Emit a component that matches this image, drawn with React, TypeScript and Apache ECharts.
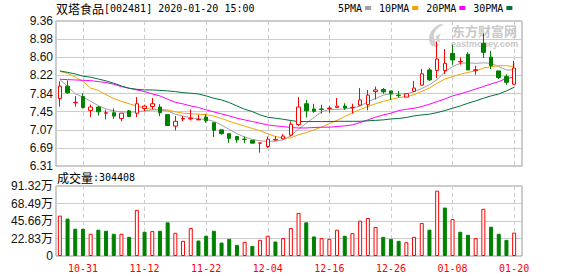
import React, { useEffect, useRef } from "react";
import * as echarts from "echarts";

const dates = [
  "10-28","10-29","10-30","10-31","11-01","11-04","11-05","11-06","11-07","11-08",
  "11-11","11-12","11-13","11-14","11-15","11-18","11-19","11-20","11-21","11-22",
  "11-25","11-26","11-27","11-28","11-29","12-02","12-03","12-04","12-05","12-06",
  "12-09","12-10","12-11","12-12","12-13","12-16","12-17","12-18","12-19","12-20",
  "12-23","12-24","12-25","12-26","12-27","12-30","12-31","01-02","01-03","01-06",
  "01-07","01-08","01-09","01-10","01-13","01-14","01-15","01-16","01-17","01-20",
];
const labeledDates = ["10-31","11-12","11-22","12-04","12-16","12-26","01-08","01-20"];

const opens = [
  7.73,7.99,7.64,7.77,7.48,7.55,7.42,7.43,7.31,7.47,
  7.42,7.52,7.56,7.55,7.39,7.15,7.30,7.30,7.28,7.34,
  7.22,7.07,6.99,6.93,6.875,6.85,6.79,6.72,6.855,6.88,
  6.96,7.18,7.62,7.51,7.51,7.52,7.54,7.57,7.535,7.59,
  7.60,7.875,7.92,7.89,7.80,7.76,7.88,8.01,8.33,8.32,
  8.32,8.68,8.50,8.66,8.32,8.89,8.60,8.31,8.19,8.03,
];
const closes = [
  7.99,7.85,7.65,7.54,7.55,7.45,7.43,7.36,7.42,7.35,
  7.62,7.57,7.62,7.43,7.16,7.25,7.31,7.315,7.29,7.26,
  7.06,6.99,6.89,6.86,6.87,6.79,6.795,6.875,6.87,6.94,
  7.19,7.55,7.47,7.46,7.50,7.53,7.57,7.53,7.545,7.70,
  7.80,7.91,7.87,7.83,7.79,7.83,7.95,8.25,8.12,8.56,
  8.47,8.54,8.51,8.33,8.335,8.70,8.42,8.17,8.07,8.37,
];
const lows = [
  7.56,7.83,7.56,7.52,7.34,7.37,7.29,7.30,7.25,7.34,
  7.34,7.46,7.50,7.36,7.16,7.06,7.25,7.27,7.28,7.22,
  6.92,6.97,6.80,6.80,6.79,6.79,6.59,6.69,6.85,6.87,
  6.93,7.15,7.33,7.43,7.41,7.43,7.54,7.49,7.41,7.57,
  7.48,7.71,7.83,7.70,7.75,7.76,7.87,8.00,8.10,8.16,
  8.24,8.44,8.44,8.33,8.23,8.58,8.35,8.14,8.02,8.02,
];
const highs = [
  8.09,8.11,7.78,7.84,7.60,7.57,7.49,7.52,7.42,7.49,
  7.76,7.60,7.74,7.61,7.39,7.36,7.36,7.50,7.39,7.40,
  7.22,7.07,6.99,6.93,6.93,6.85,6.80,6.93,6.94,6.98,
  7.25,7.76,7.70,7.62,7.60,7.57,7.74,7.63,7.62,7.95,
  7.91,7.98,7.95,7.89,7.89,7.83,8.10,8.35,8.37,8.93,
  8.77,8.86,8.59,8.70,8.42,9.10,8.73,8.31,8.24,8.52,
];
const volumes = [
  527000,488000,356000,356000,290000,343000,329000,290000,290000,250000,
  602000,316000,325000,329000,439000,303000,198000,365000,202000,264000,
  329000,175000,224000,145000,184000,132000,211000,264000,189000,233000,
  365000,562000,439000,255000,233000,224000,343000,264000,299000,461000,
  496000,378000,250000,224000,198000,180000,250000,431000,343000,852000,
  632000,483000,316000,277000,233000,615000,382000,290000,211000,304408,
];
const ma5 = [
  8.13,7.98,7.83,7.76,7.67,7.58,7.51,7.47,7.45,7.44,
  7.45,7.47,7.49,7.49,7.47,7.40,7.36,7.33,7.30,7.29,
  7.25,7.17,7.08,6.99,6.92,6.87,6.84,6.83,6.83,6.86,
  6.95,7.08,7.21,7.33,7.45,7.50,7.50,7.51,7.53,7.57,
  7.66,7.73,7.80,7.83,7.83,7.83,7.87,7.94,8.02,8.13,
  8.29,8.40,8.47,8.48,8.47,8.48,8.47,8.40,8.33,8.33,
];
const ma10 = [
  8.30,8.26,8.18,8.09,7.95,7.90,7.81,7.73,7.67,7.62,
  7.57,7.53,7.50,7.50,7.49,7.45,7.42,7.41,7.40,7.39,
  7.36,7.31,7.25,7.20,7.15,7.10,7.05,6.99,6.93,6.90,
  6.90,6.97,7.01,7.07,7.13,7.20,7.27,7.35,7.43,7.50,
  7.56,7.62,7.67,7.71,7.75,7.77,7.81,7.88,7.95,8.05,
  8.14,8.19,8.24,8.28,8.31,8.37,8.40,8.42,8.42,8.40,
];
const ma20 = [
  8.135,8.127,8.12,8.113,8.106,8.085,8.065,8.03,7.98,7.945,
  7.91,7.875,7.826,7.784,7.714,7.65,7.616,7.574,7.54,7.49,
  7.448,7.406,7.364,7.315,7.28,7.245,7.21,7.175,7.154,7.14,
  7.12,7.11,7.11,7.12,7.126,7.126,7.14,7.154,7.175,7.224,
  7.28,7.336,7.385,7.42,7.476,7.504,7.525,7.56,7.61,7.665,
  7.72,7.784,7.826,7.875,7.93,7.98,8.036,8.085,8.155,8.177,
];
const ma30 = [
  8.31,8.28,8.246,8.20,8.177,8.14,8.10,8.05,7.994,7.945,
  7.924,7.91,7.91,7.90,7.89,7.875,7.854,7.84,7.826,7.784,
  7.735,7.70,7.644,7.574,7.504,7.455,7.385,7.336,7.315,7.294,
  7.266,7.245,7.245,7.245,7.245,7.245,7.25,7.25,7.25,7.25,
  7.26,7.27,7.28,7.30,7.31,7.33,7.364,7.385,7.40,7.434,
  7.476,7.525,7.574,7.63,7.68,7.735,7.784,7.826,7.89,7.966,
];
const priceTicks = ["6.31","6.69","7.07","7.45","7.84","8.22","8.60","8.98","9.36"];
const volumeTicks = ["0","22.83万","45.66万","68.49万","91.32万"];
const PRICE_MIN = 6.31;
const PRICE_MAX = 9.36;
const VOL_STEP = 228300;
const VOL_MAX = 913200;

const RED = "#ff0000";
const GREEN = "#008000";
const MONO = "'DejaVu Sans Mono', 'Liberation Mono', monospace";
const CJK = "'Noto Sans CJK SC', sans-serif";
const LABEL_FONT = "'Liberation Sans', 'Noto Sans CJK SC', sans-serif";

let shapeRegistered = false;

export default function App() {
  const ref = useRef<HTMLDivElement>(null);

  useEffect(() => {
    if (!ref.current) return;
    if (!shapeRegistered) {
      echarts.graphic.registerShape(
        "emlogo",
        echarts.graphic.extendPath(
          "M14 0 C5 4 0 12 3 20 C5 25 10 25 13 22 C8 20 6 14 8 9 C10 5 13 2 18 1 Z M10 12 C9 16 11 19 14 19 C12 16 12 13 15 10 Z",
          {}
        ) as any
      );
      shapeRegistered = true;
    }
    const chart = echarts.init(ref.current, null, { renderer: "svg" });

    const candleData = opens.map((o, i) => [o, closes[i], lows[i], highs[i]]);
    const volData = volumes.map((v, i) => {
      const prev = i > 0 ? closes[i - 1] : opens[i];
      const up = closes[i] >= prev;
      return {
        value: v,
        itemStyle: up
          ? { color: "#ffffff", borderColor: RED, borderWidth: 1 }
          : { color: GREEN, borderColor: GREEN, borderWidth: 1 },
      };
    });
    const isLabeled = (_i: number, v: string) => labeledDates.includes(v);

    const mkLine = (name: string, data: number[], color: string) => ({
      name,
      type: "line",
      xAxisIndex: 1,
      yAxisIndex: 1,
      data,
      symbol: "none",
      showSymbol: false,
      smooth: false,
      z: 2,
      lineStyle: { width: 1, color },
      itemStyle: { color },
    });

    const dashedSplit = {
      show: true,
      interval: isLabeled,
      alignWithLabel: true,
      lineStyle: { color: "#cccccc", type: [4, 3], width: 1 },
    };

    const titleRich = {
      c: { fontFamily: CJK, fontSize: 12, color: "#000", fontWeight: "normal" },
      m: { fontFamily: MONO, fontSize: 10, color: "#000", fontWeight: "normal" },
    };

    chart.setOption({
      animation: false,
      backgroundColor: "#ffffff",
      title: [
        {
          text: "{c|双塔食品}{m|[002481] 2020-01-20 15:00}",
          left: 56,
          top: 2,
          padding: 0,
          textStyle: { fontWeight: "normal", rich: titleRich },
        },
        {
          text: "{c|成交量}{m|:" + volumes[volumes.length - 1] + "}",
          left: 57,
          top: 171,
          padding: 0,
          textStyle: { fontWeight: "normal", rich: titleRich },
        },
      ],
      legend: {
        data: ["5PMA", "10PMA", "20PMA", "30PMA"],
        left: 338,
        top: 3,
        padding: 0,
        align: "right",
        icon: "rect",
        itemWidth: 6,
        itemHeight: 4,
        itemGap: 8,
        selectedMode: false,
        textStyle: { fontFamily: MONO, fontSize: 10, color: "#000", padding: [0, -2, 0, 0] },
      },
      grid: [
        { left: 56, right: 56, top: 21, height: 145, show: true, borderColor: "#999999", borderWidth: 1, backgroundColor: "transparent" },
        { left: 56, right: 60, top: 21, height: 145 },
        { left: 56, right: 56, top: 186, height: 70, show: true, borderColor: "#999999", borderWidth: 1, backgroundColor: "transparent" },
        { left: 56, right: 60, top: 186, height: 70 },
      ],
      xAxis: [
        { gridIndex: 0, type: "value", min: 0, max: 1, show: false },
        {
          gridIndex: 1,
          type: "category",
          data: dates,
          boundaryGap: true,
          axisLine: { show: false },
          axisTick: { show: false },
          axisLabel: { show: false },
          splitLine: dashedSplit,
        },
        { gridIndex: 2, type: "value", min: 0, max: 1, show: false },
        {
          gridIndex: 3,
          type: "category",
          data: dates,
          boundaryGap: true,
          axisLine: { show: false },
          axisTick: { show: false },
          axisLabel: {
            interval: isLabeled,
            color: RED,
            fontFamily: MONO,
            fontSize: 10,
            margin: 7,
          },
          splitLine: dashedSplit,
        },
      ],
      yAxis: [
        {
          gridIndex: 0,
          type: "value",
          min: 0,
          max: priceTicks.length - 1,
          interval: 1,
          axisLine: { show: false },
          axisTick: { show: false },
          axisLabel: {
            formatter: (v: number) => priceTicks[Math.round(v)] ?? "",
            color: "#111",
            fontFamily: LABEL_FONT,
            fontSize: 12,
            margin: 3,
          },
          splitLine: { show: true, lineStyle: { color: "#cccccc", width: 1 } },
        },
        { gridIndex: 1, type: "value", min: PRICE_MIN, max: PRICE_MAX, show: false, splitLine: { show: false } },
        {
          gridIndex: 2,
          type: "value",
          min: 0,
          max: VOL_MAX,
          interval: VOL_STEP,
          axisLine: { show: false },
          axisTick: { show: false },
          axisLabel: {
            formatter: (v: number) => volumeTicks[Math.round(v / VOL_STEP)] ?? "",
            color: "#111",
            fontFamily: LABEL_FONT,
            fontSize: 12,
            margin: 3,
          },
          splitLine: { show: true, lineStyle: { color: "#cccccc", width: 1 } },
        },
        { gridIndex: 3, type: "value", min: 0, max: VOL_MAX, show: false, splitLine: { show: false } },
      ],
      graphic: [
        {
          type: "emlogo",
          x: 427,
          y: 24,
          scaleX: 0.95,
          scaleY: 0.95,
          shape: {},
          style: { fill: "#cfcfcf" },
          z: 1,
          silent: true,
        },
        {
          type: "text",
          x: 452,
          y: 23,
          z: 1,
          silent: true,
          style: { text: "东方财富网", font: "bold 13px 'Noto Sans CJK SC'", lineHeight: 14, fill: "#c8c8c8" },
        },
        {
          type: "text",
          x: 451,
          y: 39,
          z: 1,
          silent: true,
          style: { text: "eastmoney.com", font: "bold 9px 'Liberation Sans'", lineHeight: 9, fill: "#c8c8c8" },
        },
      ],
      series: [
        mkLine("5PMA", ma5, "#a0a0a0"),
        mkLine("10PMA", ma10, "#f5a300"),
        mkLine("20PMA", ma20, "#ff00ff"),
        mkLine("30PMA", ma30, "#00703c"),
        {
          name: "K",
          type: "candlestick",
          xAxisIndex: 1,
          yAxisIndex: 1,
          data: candleData,
          barWidth: 4,
          z: 3,
          itemStyle: {
            color: "#ffffff",
            color0: GREEN,
            borderColor: RED,
            borderColor0: GREEN,
            borderWidth: 1,
          },
        },
        {
          name: "成交量",
          type: "bar",
          xAxisIndex: 3,
          yAxisIndex: 3,
          data: volData,
          barWidth: 4,
        },
      ],
    });
    return () => chart.dispose();
  }, []);

  return (
    <div
      ref={ref}
      style={{ position: "absolute", left: 0, top: 0, width: 578, height: 276 }}
    />
  );
}
